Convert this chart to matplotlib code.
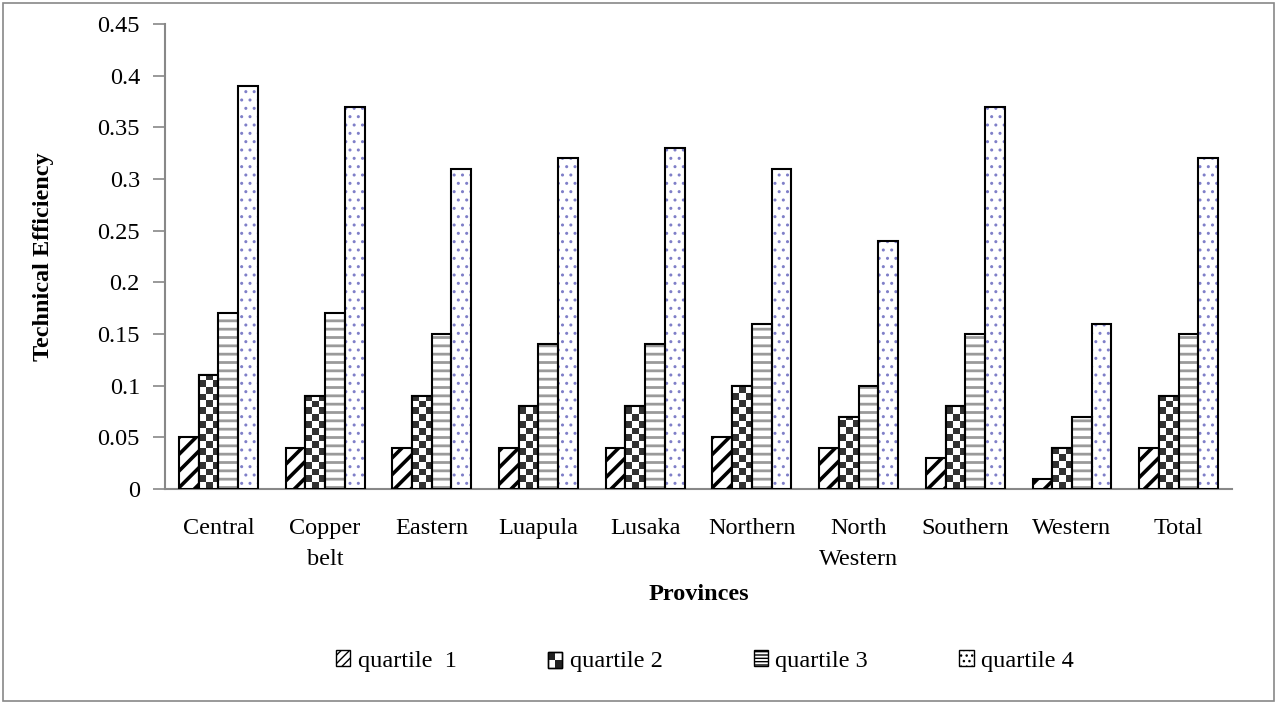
import matplotlib
matplotlib.use('Agg')
import matplotlib.pyplot as plt
import numpy as np
from matplotlib.patches import Rectangle, Patch
from matplotlib.legend_handler import HandlerBase

provinces = ['Central', 'Copper\nbelt', 'Eastern', 'Luapula', 'Lusaka',
             'Northern', 'North\nWestern', 'Southern', 'Western', 'Total']
quartile_1 = [0.05, 0.04, 0.04, 0.04, 0.04, 0.05, 0.04, 0.03, 0.01, 0.04]
quartile_2 = [0.11, 0.09, 0.09, 0.08, 0.08, 0.10, 0.07, 0.08, 0.04, 0.09]
quartile_3 = [0.17, 0.17, 0.15, 0.14, 0.14, 0.16, 0.10, 0.15, 0.07, 0.15]
quartile_4 = [0.39, 0.37, 0.31, 0.32, 0.33, 0.31, 0.24, 0.37, 0.16, 0.32]
series_names = ['quartile  1', 'quartile 2', 'quartile 3', 'quartile 4']
yticks = [0, 0.05, 0.1, 0.15, 0.2, 0.25, 0.3, 0.35, 0.4, 0.45]
ytick_labels = ['0', '0.05', '0.1', '0.15', '0.2', '0.25', '0.3', '0.35',
                '0.4', '0.45']

plt.rcParams['font.family'] = ['Liberation Serif', 'DejaVu Serif']
plt.rcParams['font.size'] = 17.5

DOT = '#7f7fc8'
LINE = '#9a9a9a'


def set_hlw(patch, lw):
    if hasattr(patch, 'set_hatch_linewidth'):
        patch.set_hatch_linewidth(lw)


def checker(nrows, ncols):
    """
    0/1 checkerboard array
    """
    return (np.add.outer(np.arange(nrows), np.arange(ncols)) % 2).astype(float)


class CheckerHandler(HandlerBase):
    def create_artists(self, legend, orig, xd, yd, w, h, fs, trans):
        arts = [Rectangle((xd, yd), w, h, facecolor='white', edgecolor='black',
                          lw=1, transform=trans)]
        arts.append(Rectangle((xd + w / 2, yd), w / 2, h / 2,
                              facecolor='#222222', lw=0, transform=trans))
        arts.append(Rectangle((xd, yd + h / 2), w / 2, h / 2,
                              facecolor='#222222', lw=0, transform=trans))
        arts.append(Rectangle((xd, yd), w, h, facecolor='none',
                              edgecolor='black', lw=1, transform=trans))
        return arts


fig = plt.figure(figsize=(12.77, 7.04), dpi=100)
fig.patches.append(Rectangle((0.002, 0.004), 0.996, 0.992, fill=False,
                             edgecolor='#888888', lw=1.2,
                             transform=fig.transFigure))
ax = fig.add_axes([0.1292, 0.3054, 0.8356, 0.6605])

x = np.arange(len(provinces))
w = 0.185
offs = [-1.5 * w, -0.5 * w, 0.5 * w, 1.5 * w]
xmin, xmax = -0.5, len(provinces) - 0.5
ymax = 0.45

# quartile 1: thick diagonal
b1 = ax.bar(x + offs[0], quartile_1, w, facecolor='white', edgecolor='black',
            hatch='//', lw=1.5, zorder=3)
for p in b1:
    set_hlw(p, 2.6)

# quartile 2: checkerboard image clipped to bar
b2 = ax.bar(x + offs[1], quartile_2, w, facecolor='white', edgecolor='black',
            lw=1.5, zorder=3)
cell_x = (xmax - xmin) / 1067 * 6.8
cell_y = ymax / 465 * 6.8
for p in b2:
    x0 = p.get_x()
    h = p.get_height()
    nr = int(np.ceil(h / cell_y))
    nc = int(np.ceil(w / cell_x))
    im = ax.imshow(checker(nr, nc), cmap='gray_r', vmin=0, vmax=1.25,
                   extent=[x0, x0 + nc * cell_x, 0, nr * cell_y],
                   origin='lower', interpolation='nearest', aspect='auto',
                   zorder=3.5)
    im.set_clip_path(p)
ax.bar(x + offs[1], quartile_2, w, facecolor='none', edgecolor='black',
       lw=1.5, zorder=4)

# quartile 3: gray horizontal lines
b3 = ax.bar(x + offs[2], quartile_3, w, facecolor='white', edgecolor=LINE,
            hatch='--', lw=0, zorder=3)
for p in b3:
    set_hlw(p, 2.0)
ax.bar(x + offs[2], quartile_3, w, facecolor='none', edgecolor='black',
       lw=1.5, zorder=4)

# quartile 4: purple dots
ax.bar(x + offs[3], quartile_4, w, facecolor='white', edgecolor=DOT,
       hatch='..', lw=0, zorder=3)
ax.bar(x + offs[3], quartile_4, w, facecolor='none', edgecolor='black',
       lw=1.5, zorder=4)

ax.set_xlim(xmin, xmax)
ax.set_ylim(0, ymax)
ax.set_yticks(yticks)
ax.set_yticklabels(ytick_labels)
ax.set_xticks(x)
ax.set_xticklabels(provinces, va='top', linespacing=1.6)
ax.tick_params(axis='x', length=0, pad=21)
ax.tick_params(axis='y', length=9, width=1.2, color='#888888', pad=9)
for s in ['top', 'right']:
    ax.spines[s].set_visible(False)
for s in ['left', 'bottom']:
    ax.spines[s].set_color('#888888')
    ax.spines[s].set_linewidth(1.5)

ax.set_xlabel('Provinces', fontweight='bold', labelpad=10)
ax.set_ylabel('Technical Efficiency', fontweight='bold', labelpad=31)

h1 = Patch(facecolor='white', edgecolor='black', hatch='////')
h2 = Patch(facecolor='white', edgecolor='black')
h3 = Patch(facecolor='white', edgecolor='black', hatch='-----')
h4 = Patch(facecolor='white', edgecolor='black', hatch='...')
leg = fig.legend([h1, h2, h3, h4], series_names, loc='center',
                 bbox_to_anchor=(0.552, 0.061), ncol=4, frameon=False,
                 handlelength=0.6, handleheight=0.6, handletextpad=0.3,
                 columnspacing=3.75,
                 handler_map={h2: CheckerHandler()})

fig.savefig('out.png', dpi=100)
